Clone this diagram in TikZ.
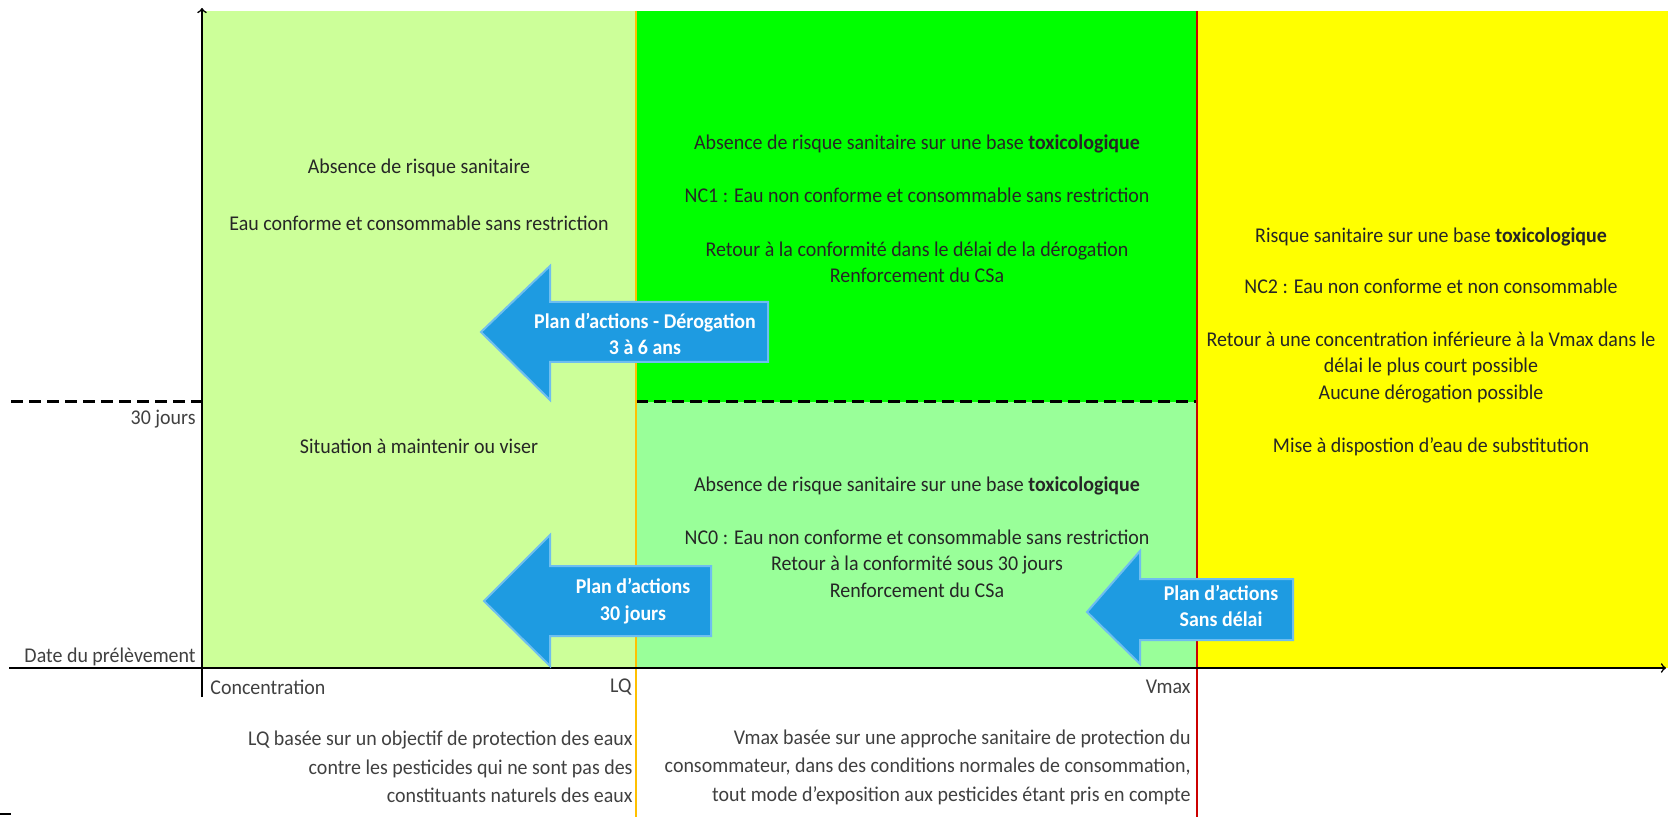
\documentclass[tikz,border=0pt]{standalone}
\usepackage{fontspec}
\setmainfont{Carlito}[FakeStretch=0.95]
\usetikzlibrary{calc}
\usetikzlibrary{arrows}

\definecolor{zonelime}{RGB}{204,255,153}
\definecolor{zonevert}{RGB}{0,255,0}
\definecolor{zonepale}{RGB}{153,255,153}
\definecolor{zonejaune}{RGB}{255,255,0}
\definecolor{traitlq}{RGB}{255,192,0}
\definecolor{traitvmax}{RGB}{204,0,0}
\definecolor{planbleu}{RGB}{30,155,225}
\definecolor{planbord}{RGB}{110,190,240}

\tikzset{
  zonetxt/.style={font=\fontsize{10.5}{13.3}\selectfont,text=black!85,align=center,inner sep=0pt},
  axetxt/.style={font=\fontsize{10.5}{13.3}\selectfont,text=black!75,inner sep=0pt},
  plantxt/.style={font=\bfseries\fontsize{10.5}{13.3}\selectfont,text=white,align=center,inner sep=0pt},
  planfleche/.style={fill=planbleu,draw=planbord,line width=1pt},
  seuil/.style={dash pattern=on 6pt off 3pt,line width=1.5pt}
}

\begin{document}
\begin{tikzpicture}[x=0.5pt,y=-0.5pt]
  % Constants
  \pgfmathsetmacro\xo{202}
  \pgfmathsetmacro\xlq{636}
  \pgfmathsetmacro\xvm{1197}
  \pgfmathsetmacro\yh{11}
  \pgfmathsetmacro\yj{402}
  \pgfmathsetmacro\yo{668}
  % Boundary
  \path[use as bounding box] (0,0) rectangle (1668,817);
  % Zones
  \fill[zonelime] (\xo,\yh) rectangle (\xlq,\yo);
  \fill[zonevert] (\xlq,\yh) rectangle (\xvm,\yj);
  \fill[zonepale] (\xlq,\yj) rectangle (\xvm,\yo);
  \fill[zonejaune] (\xvm,\yh) rectangle (1668,\yo);
  % 30 jours
  \coordinate (jg) at (11,\yj);
  \coordinate (jo) at (\xo,\yj);
  \coordinate (jlq) at (\xlq,\yj);
  \coordinate (jvm) at (\xvm,\yj);
  \draw[seuil] (jg) -- (jo);
  \draw[seuil] (jlq) -- (jvm);
  % Seuils LQ et Vmax
  \draw[traitlq,line width=1.4pt] (\xlq,\yh) -- (\xlq,817);
  \draw[traitvmax,line width=1.4pt] (\xvm,\yh) -- (\xvm,817);
  % Axes
  \draw[->,line width=0.8pt] (\xo,697) -- (\xo,8);
  \draw[->,line width=0.8pt] (9,\yo) -- (1666,\yo);
  \draw[line width=0.8pt] (0,814) -- (11,814);
  % Plans d'actions
  \draw[planfleche] (481,332) -- (550,266) -- (550,302) -- (768,302) -- (768,362) -- (550,362) -- (550,400) -- cycle;
  \draw[planfleche] (484,601) -- (550,535) -- (550,566) -- (711,566) -- (711,636) -- (550,636) -- (550,666) -- cycle;
  \draw[planfleche] (1087,612) -- (1140,551) -- (1140,579) -- (1293,579) -- (1293,640) -- (1140,640) -- (1140,664) -- cycle;
  \node[plantxt] (derog) at (645,334) {Plan d'actions - Dérogation\\3 à 6 ans};
  \node[plantxt] (trente) at (633,601) {Plan d'actions\\30 jours};
  \node[plantxt] (sansdelai) at (1221,606) {Plan d'actions\\Sans délai};
  % Textes des zones
  \node[zonetxt] (conforme) at (419,195) {Absence de risque sanitaire\\[15pt]Eau conforme et consommable sans restriction};
  \node[zonetxt] (viser) at (419,446) {Situation à maintenir ou viser};
  \node[zonetxt] (ncun) at (917,209) {Absence de risque sanitaire sur une base \textbf{toxicologique}\\[13.3pt]
    NC1 : Eau non conforme et consommable sans restriction\\[13.3pt]
    Retour à la conformité dans le délai de la dérogation\\Renforcement du CSa};
  \node[zonetxt] (nczero) at (917,537) {Absence de risque sanitaire sur une base \textbf{toxicologique}\\[13.3pt]
    NC0 : Eau non conforme et consommable sans restriction\\Retour à la conformité sous 30 jours\\Renforcement du CSa};
  \node[zonetxt] (ncdeux) at (1431,342) {Risque sanitaire sur une base \textbf{toxicologique}\\[12pt]
    NC2 : Eau non conforme et non consommable\\[13.3pt]
    Retour à une concentration inférieure à la Vmax dans le\\délai le plus court possible\\Aucune dérogation possible\\[13.3pt]
    Mise à dispostion d'eau de substitution};
  % Axe des temps
  \node[axetxt,anchor=east] (jours) at (196,419) {30 jours};
  \node[axetxt,anchor=east] (date) at (196,657) {Date du prélèvement};
  % Axe des concentrations
  \node[axetxt,anchor=west] (conc) at (210,687) {Concentration};
  \node[axetxt,anchor=east] (lq) at (632,687) {LQ};
  \node[axetxt,anchor=east] (vmax) at (1191,687) {Vmax};
  \node[axetxt,anchor=east,align=right] (lqbase) at (633,767) {LQ basée sur un objectif de protection des eaux\\[1pt]contre les pesticides qui ne sont pas des\\[1pt]constituants naturels des eaux};
  \node[axetxt,anchor=east,align=right] (vmaxbase) at (1191,767) {Vmax basée sur une approche sanitaire de protection du\\[1pt]consommateur, dans des conditions normales de consommation,\\[1pt]tout mode d'exposition aux pesticides étant pris en compte};
\end{tikzpicture}
\end{document}
